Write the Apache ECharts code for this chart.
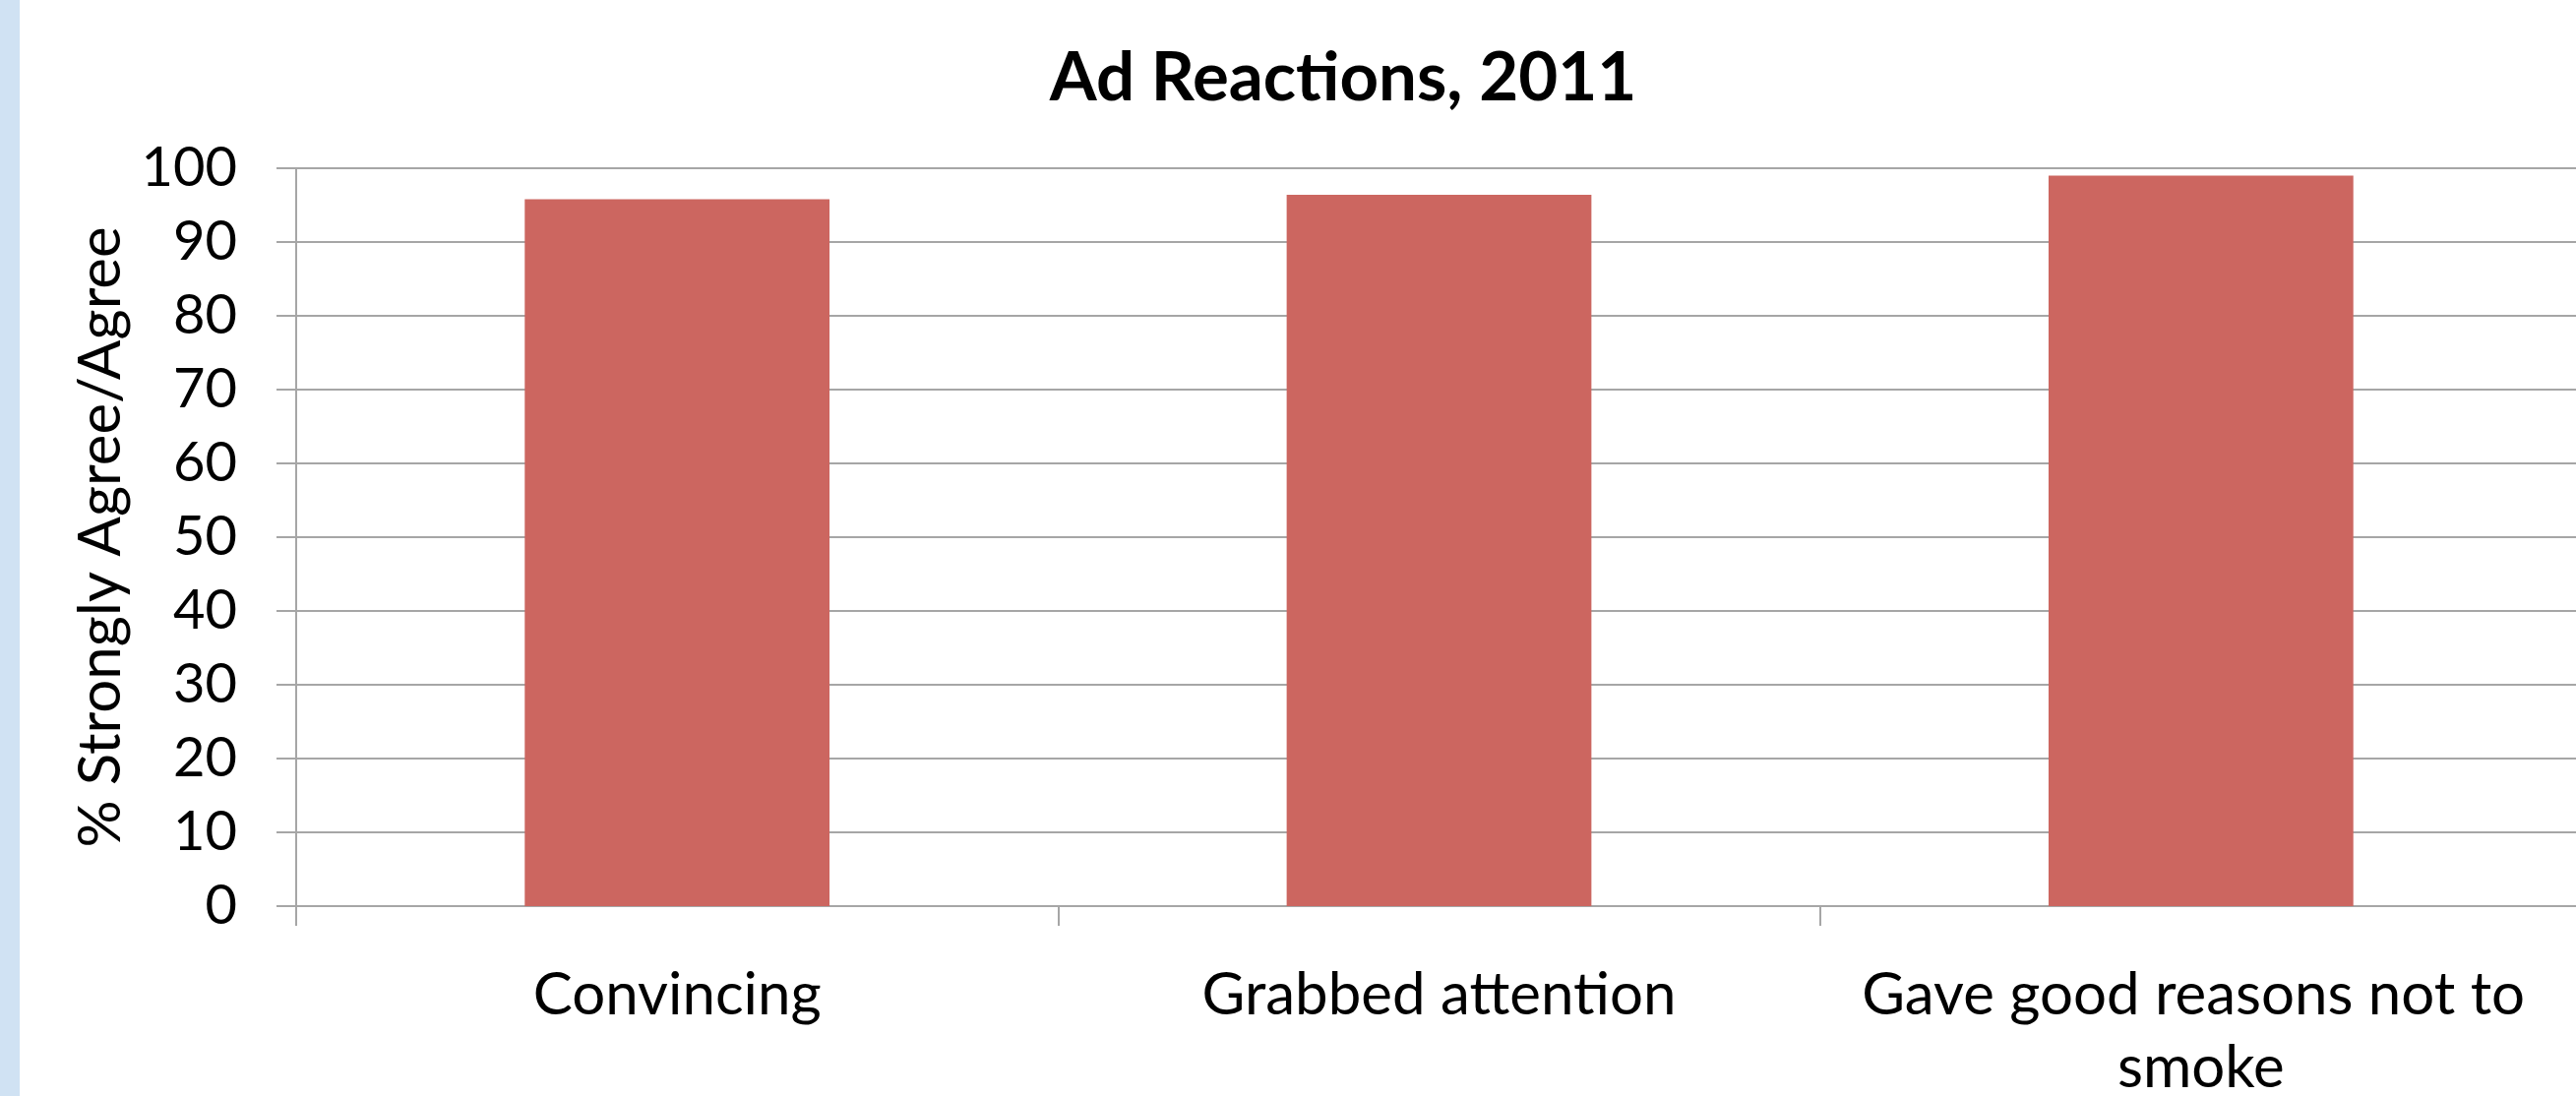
<!DOCTYPE html>
<html>
<head>
<meta charset="utf-8">
<style>
  html, body { margin: 0; padding: 0; background: #ffffff; }
  #chart { width: 2618px; height: 1114px; }
</style>
<script src="https://cdn.jsdelivr.net/npm/echarts@6/dist/echarts.min.js"></script>
</head>
<body>
<div id="chart"></div>
<script>
// Survey responses: share who strongly agreed or agreed with each statement
const categories = ['Convincing', 'Grabbed attention', 'Gave good reasons not to smoke'];
const agreePercent = [95.8, 96.4, 99.0];
const yTicks = { min: 0, max: 100, interval: 10 };

const FONT = 'Lato';
const GRID_COLOR = '#A6A6A6';
const BAR_COLOR = '#CC6660';

const chart = echarts.init(document.getElementById('chart'), null, { renderer: 'canvas' });

chart.setOption({
  animation: false,
  backgroundColor: '#ffffff',
  title: {
    text: 'Ad Reactions, 2011',
    left: 1360,
    top: 40,
    textAlign: 'center',
    textStyle: { fontFamily: FONT, fontWeight: 'bold', fontSize: 69, color: '#000000' }
  },
  graphic: [{
    type: 'rect',
    left: 0, top: 0,
    shape: { width: 20, height: 1114 },
    style: { fill: '#D0E2F3' },
    silent: true
  }],
  grid: {
    left: 301, right: -6, top: 171, bottom: 193,
    containLabel: false,
    outerBoundsMode: 'none'
  },
  xAxis: {
    type: 'category',
    data: categories,
    boundaryGap: true,
    axisLine: { show: true, lineStyle: { color: GRID_COLOR, width: 2 } },
    axisTick: { show: true, length: 20, lineStyle: { color: GRID_COLOR, width: 2 } },
    axisLabel: {
      fontFamily: FONT, fontSize: 60, color: '#000000',
      margin: 54, lineHeight: 74,
      width: 760, overflow: 'break', interval: 0
    },
    splitLine: { show: false }
  },
  yAxis: {
    type: 'value',
    min: yTicks.min, max: yTicks.max, interval: yTicks.interval,
    name: '% Strongly Agree/Agree',
    nameLocation: 'middle',
    nameRotate: 90,
    nameGap: 166,
    nameTextStyle: { fontFamily: FONT, fontSize: 60, color: '#000000' },
    axisLine: { show: true, lineStyle: { color: GRID_COLOR, width: 2 } },
    axisTick: { show: true, length: 20, lineStyle: { color: GRID_COLOR, width: 2 } },
    axisLabel: { fontFamily: FONT, fontSize: 56, color: '#000000', margin: 60 },
    splitLine: { show: true, lineStyle: { color: GRID_COLOR, width: 2 } }
  },
  series: [{
    type: 'bar',
    data: agreePercent,
    barWidth: '40%',
    itemStyle: { color: BAR_COLOR },
    emphasis: { disabled: true }
  }]
});
</script>
</body>
</html>
